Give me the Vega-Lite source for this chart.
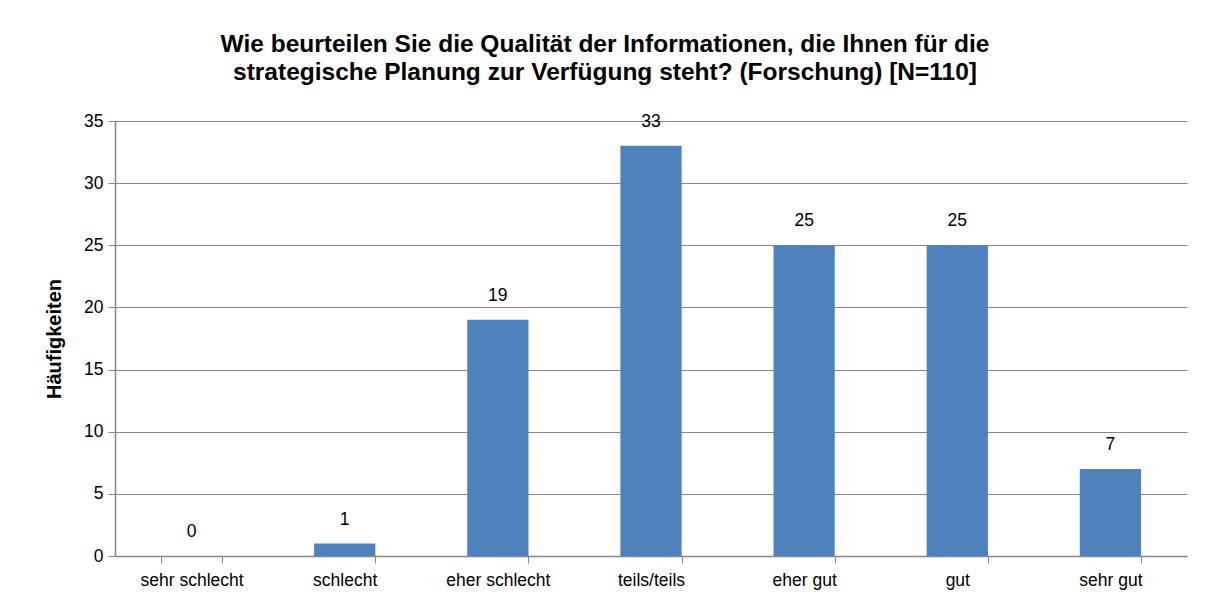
{
  "$schema": "https://vega.github.io/schema/vega-lite/v6.json",
  "autosize": "none",
  "width": 1072,
  "height": 435,
  "padding": {"left": 115, "top": 121, "right": 25, "bottom": 52},
  "background": "white",
  "config": {
    "font": "Liberation Sans",
    "view": {"stroke": null},
    "axis": {"domainColor": "#868686", "tickColor": "#868686", "gridColor": "#868686", "labelColor": "#000000", "titleColor": "#000000", "labelFontSize": 17.5, "titleFontSize": 20}
  },
  "title": {
    "text": ["Wie beurteilen Sie die Qualität der Informationen, die Ihnen für die", "strategische Planung zur Verfügung steht? (Forschung) [N=110]"],
    "fontSize": 24.5,
    "fontWeight": "bold",
    "color": "#000000",
    "anchor": "middle",
    "dx": -46,
    "offset": 27,
    "lineHeight": 28
  },
  "data": {
    "values": [
      {"kategorie": "sehr schlecht", "anzahl": 0},
      {"kategorie": "schlecht", "anzahl": 1},
      {"kategorie": "eher schlecht", "anzahl": 19},
      {"kategorie": "teils/teils", "anzahl": 33},
      {"kategorie": "eher gut", "anzahl": 25},
      {"kategorie": "gut", "anzahl": 25},
      {"kategorie": "sehr gut", "anzahl": 7}
    ]
  },
  "encoding": {
    "x": {
      "field": "kategorie",
      "type": "nominal",
      "sort": null,
      "scale": {"paddingInner": 0.6, "paddingOuter": 0.3},
      "axis": {"title": null, "labelAngle": 0, "tickBand": "extent", "tickSize": 7, "labelPadding": 8, "domainWidth": 1.5}
    },
    "y": {
      "field": "anzahl",
      "type": "quantitative",
      "scale": {"domain": [0, 35]},
      "axis": {"title": "Häufigkeiten", "titleFontWeight": "bold", "titlePadding": 19, "values": [0, 5, 10, 15, 20, 25, 30, 35], "tickSize": 7, "labelPadding": 5, "gridWidth": 1.2, "domainWidth": 1.5}
    }
  },
  "layer": [
    {"mark": {"type": "bar", "color": "#4F81BD"}},
    {"mark": {"type": "text", "fontSize": 17.5, "baseline": "middle", "dy": -24, "color": "#000000"}, "encoding": {"text": {"field": "anzahl", "type": "quantitative"}}}
  ]
}
